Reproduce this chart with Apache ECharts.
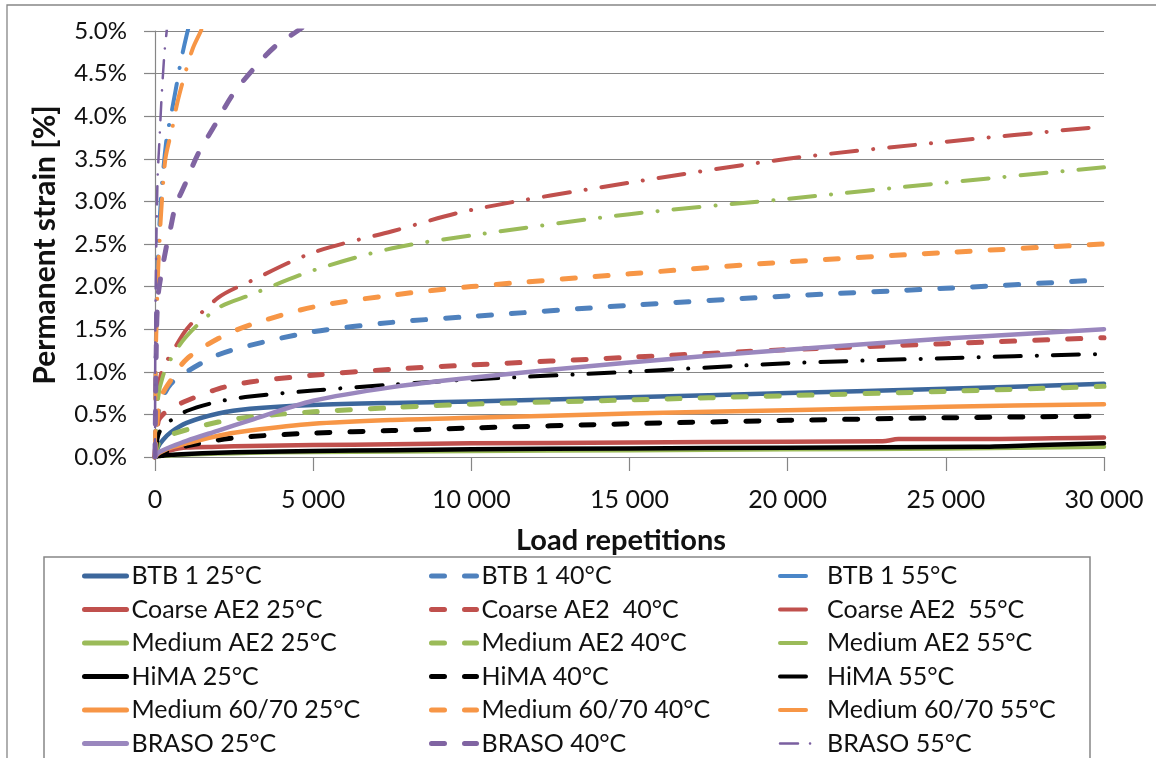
<!DOCTYPE html>
<html><head><meta charset="utf-8">
<script src="https://cdn.jsdelivr.net/npm/echarts@6/dist/echarts.min.js"></script>
<style>html,body{margin:0;padding:0;background:#fff;}#c{width:1156px;height:758px;}</style>
</head><body><div id="c"></div>
<script>
// ---- data ----
const reps = [0, 100, 250, 500, 1000, 2000, 3000, 5000, 7500, 10000, 15000, 20000, 25000, 30000];
const btb1_25   = [0, 0.12, 0.20, 0.29, 0.40, 0.51, 0.565, 0.61, 0.635, 0.65, 0.70, 0.75, 0.80, 0.86];
const btb1_40   = [0, 0.50, 0.70, 0.86, 1.00, 1.20, 1.31, 1.47, 1.58, 1.65, 1.78, 1.89, 1.98, 2.08];
const coarse_40 = [0, 0.42, 0.50, 0.57, 0.66, 0.80, 0.88, 0.96, 1.03, 1.08, 1.17, 1.26, 1.33, 1.40];
const coarse_55 = [0, 0.80, 1.05, 1.20, 1.50, 1.87, 2.06, 2.40, 2.65, 2.90, 3.22, 3.50, 3.70, 3.88];
const medAE2_25 = [0, 0.01, 0.015, 0.02, 0.03, 0.04, 0.05, 0.06, 0.065, 0.07, 0.08, 0.09, 0.10, 0.12];
const medAE2_40 = [0, 0.15, 0.20, 0.26, 0.32, 0.41, 0.47, 0.53, 0.58, 0.62, 0.67, 0.72, 0.77, 0.83];
const medAE2_55 = [0, 0.70, 0.95, 1.15, 1.42, 1.75, 1.90, 2.19, 2.45, 2.60, 2.85, 3.03, 3.22, 3.40];
const hima_40   = [0, 0.03, 0.05, 0.08, 0.13, 0.20, 0.24, 0.28, 0.31, 0.34, 0.39, 0.43, 0.46, 0.48];
const hima_55   = [0, 0.25, 0.36, 0.43, 0.54, 0.65, 0.71, 0.78, 0.85, 0.91, 1.00, 1.10, 1.16, 1.21];
const med6070_25 = [0, 0.04, 0.07, 0.11, 0.16, 0.25, 0.31, 0.39, 0.435, 0.46, 0.51, 0.55, 0.59, 0.62];
const med6070_40 = [0, 0.55, 0.75, 0.90, 1.15, 1.39, 1.55, 1.76, 1.90, 2.00, 2.15, 2.29, 2.40, 2.50];
const braso_25  = [0, 0.05, 0.08, 0.12, 0.19, 0.31, 0.43, 0.66, 0.82, 0.93, 1.11, 1.26, 1.39, 1.50];

const coarse_25_reps = [0, 100, 250, 500, 1000, 2000, 3000, 5000, 7500, 10000, 15000, 20000, 23000, 23500, 25000, 30000];
const coarse_25      = [0, 0.03, 0.05, 0.08, 0.11, 0.12, 0.13, 0.14, 0.15, 0.16, 0.17, 0.18, 0.185, 0.21, 0.21, 0.23];
const hima_25_reps = [0, 100, 250, 500, 1000, 2000, 3000, 5000, 7500, 10000, 15000, 20000, 26000, 28000, 30000];
const hima_25      = [0, 0.01, 0.015, 0.025, 0.035, 0.05, 0.06, 0.07, 0.08, 0.09, 0.10, 0.11, 0.12, 0.14, 0.16];

const btb1_55_reps = [0, 20, 50, 100, 200, 370, 500, 650, 820, 1000, 1300];
const btb1_55      = [0, 1.1, 1.8, 2.4, 3.1, 3.75, 4.0, 4.3, 4.65, 4.95, 5.4];
const med6070_55_reps = [0, 20, 50, 100, 200, 330, 540, 700, 950, 1200, 1450, 1800];
const med6070_55      = [0, 1.0, 1.6, 2.2, 2.9, 3.5, 3.85, 4.15, 4.5, 4.8, 5.0, 5.3];
const braso_40_reps = [0, 50, 100, 200, 350, 500, 650, 950, 1350, 1900, 2450, 3100, 3800, 4500, 5500];
const braso_40      = [0, 1.5, 1.9, 2.15, 2.45, 2.7, 2.95, 3.2, 3.55, 3.9, 4.25, 4.55, 4.82, 5.0, 5.25];
const braso_55_reps = [0, 10, 30, 80, 145, 205, 300, 370, 450];
const braso_55      = [0, 1.5, 2.2, 3.25, 3.75, 4.2, 4.75, 5.0, 5.3];

const xTickValues = [0, 5000, 10000, 15000, 20000, 25000, 30000];
const xTickLabels = ['0', '5 000', '10 000', '15 000', '20 000', '25 000', '30 000'];
const yTickValues = [0, 0.5, 1, 1.5, 2, 2.5, 3, 3.5, 4, 4.5, 5];
const yTickLabels = ['0.0%', '0.5%', '1.0%', '1.5%', '2.0%', '2.5%', '3.0%', '3.5%', '4.0%', '4.5%', '5.0%'];

const names25 = ['BTB 1 25°C', 'Coarse AE2 25°C', 'Medium AE2 25°C', 'HiMA 25°C', 'Medium 60/70 25°C', 'BRASO 25°C'];
const names40 = ['BTB 1 40°C', 'Coarse AE2  40°C', 'Medium AE2 40°C', 'HiMA 40°C', 'Medium 60/70 40°C', 'BRASO 40°C'];
const names55 = ['BTB 1 55°C', 'Coarse AE2  55°C', 'Medium AE2 55°C', 'HiMA 55°C', 'Medium 60/70 55°C', 'BRASO 55°C'];

// ---- styles ----
const FONT = 'Lato';
const SOLID = {type: 'solid', width: 4.5};
const DASH = {type: [13, 20], width: 5};
const DASHDOT = {type: [26, 16, 0.1, 16], width: 4};
const DASHDOT_THIN = {type: [18, 12, 0.1, 12], width: 2.5};

function pairs(xs, ys) { return xs.map((x, i) => [x, ys[i]]); }
function mk(name, xs, ys, color, style) {
  return {
    name: name, type: 'line', data: pairs(xs, ys), symbol: 'none', showSymbol: false,
    smooth: 0.3, animation: false,
    lineStyle: Object.assign({color: color, cap: 'round', join: 'round'}, style),
    itemStyle: {color: color}
  };
}

const series = [
  mk(names25[0], reps, btb1_25, '#3C679C', SOLID),
  mk(names40[0], reps, btb1_40, '#4F81BD', DASH),
  mk(names55[0], btb1_55_reps, btb1_55, '#4A86C8', DASHDOT),
  mk(names25[1], coarse_25_reps, coarse_25, '#C0504D', SOLID),
  mk(names40[1], reps, coarse_40, '#C0504D', DASH),
  mk(names55[1], reps, coarse_55, '#C0504D', DASHDOT),
  mk(names25[2], reps, medAE2_25, '#9BBB59', SOLID),
  mk(names40[2], reps, medAE2_40, '#9BBB59', DASH),
  mk(names55[2], reps, medAE2_55, '#9BBB59', DASHDOT),
  mk(names25[3], hima_25_reps, hima_25, '#000000', SOLID),
  mk(names40[3], reps, hima_40, '#000000', DASH),
  mk(names55[3], reps, hima_55, '#000000', DASHDOT),
  mk(names25[4], reps, med6070_25, '#F79646', SOLID),
  mk(names40[4], reps, med6070_40, '#F79646', DASH),
  mk(names55[4], med6070_55_reps, med6070_55, '#F79646', DASHDOT),
  mk(names25[5], reps, braso_25, '#9A87BE', SOLID),
  mk(names40[5], braso_40_reps, braso_40, '#8064A2', DASH),
  mk(names55[5], braso_55_reps, braso_55, '#7A5FA0', DASHDOT_THIN)
];

function legendItems(names, kind) {
  return names.map((n, i) => ({name: n, lineStyle: {width: (kind === 'dd' && i === 5) ? 2.5 : (kind === 'dd' ? 4 : 5)}}));
}
const legendBase = {
  orient: 'vertical', top: 563, height: 260, padding: 0,
  itemHeight: 14, itemGap: 7.5, selectedMode: false,
  itemStyle: {opacity: 0, color: 'rgba(0,0,0,0)', borderWidth: 0},
  textStyle: {fontFamily: FONT, fontSize: 25, color: '#111', lineHeight: 26}
};

const option = {
  backgroundColor: '#fff',
  animation: false,
  grid: {left: 155, right: 52, top: 31, bottom: 301, containLabel: false},
  xAxis: {
    type: 'value', min: 0, max: 30000, interval: 5000,
    axisLine: {show: true, lineStyle: {color: '#868686', width: 1.2}},
    axisTick: {show: true, inside: false, length: 14, lineStyle: {color: '#868686', width: 1.2}},
    splitLine: {show: false},
    axisLabel: {
      margin: 30, fontFamily: FONT, fontSize: 25, color: '#111',
      formatter: v => { const i = xTickValues.indexOf(v); return i >= 0 ? xTickLabels[i] : ''; }
    }
  },
  yAxis: {
    type: 'value', min: 0, max: 5, interval: 0.5,
    axisLine: {show: true, lineStyle: {color: '#868686', width: 1.2}},
    axisTick: {show: true, inside: false, length: 11, lineStyle: {color: '#868686', width: 1.2}},
    splitLine: {show: true, lineStyle: {color: '#868686', width: 1.2}},
    axisLabel: {
      margin: 28, fontFamily: FONT, fontSize: 24, color: '#111',
      formatter: v => { const i = yTickValues.findIndex(t => Math.abs(t - v) < 1e-6); return i >= 0 ? yTickLabels[i] : ''; }
    }
  },
  legend: [
    Object.assign({}, legendBase, {left: 82, itemWidth: 42, data: legendItems(names25, 's')}),
    Object.assign({}, legendBase, {left: 429, itemWidth: 45, data: legendItems(names40, 'd')}),
    Object.assign({}, legendBase, {left: 778, itemWidth: 32, data: legendItems(names55, 'dd'),
      textStyle: Object.assign({}, legendBase.textStyle, {padding: [0, 0, 0, 10]})})
  ],
  graphic: [
    {type: 'rect', silent: true, z: -10, shape: {x: 7, y: 5, width: 1170, height: 780},
      style: {fill: 'none', stroke: '#868686', lineWidth: 1.3}},
    {type: 'rect', silent: true, z: -5, shape: {x: 44, y: 557, width: 1046, height: 230},
      style: {fill: 'none', stroke: '#868686', lineWidth: 1.5}},
    {type: 'text', silent: true, x: 621, y: 541,
      style: {text: 'Load repetitions', font: 'bold 29px Lato', fill: '#111', align: 'center', verticalAlign: 'middle'}},
    {type: 'text', silent: true, x: 45, y: 245, rotation: Math.PI / 2,
      style: {text: 'Permanent strain [%]', font: 'bold 30px Lato', fill: '#111', align: 'center', verticalAlign: 'middle'}}
  ],
  series: series
};

const chart = echarts.init(document.getElementById('c'), null, {renderer: 'canvas'});
chart.setOption(option);
</script>
</body></html>
